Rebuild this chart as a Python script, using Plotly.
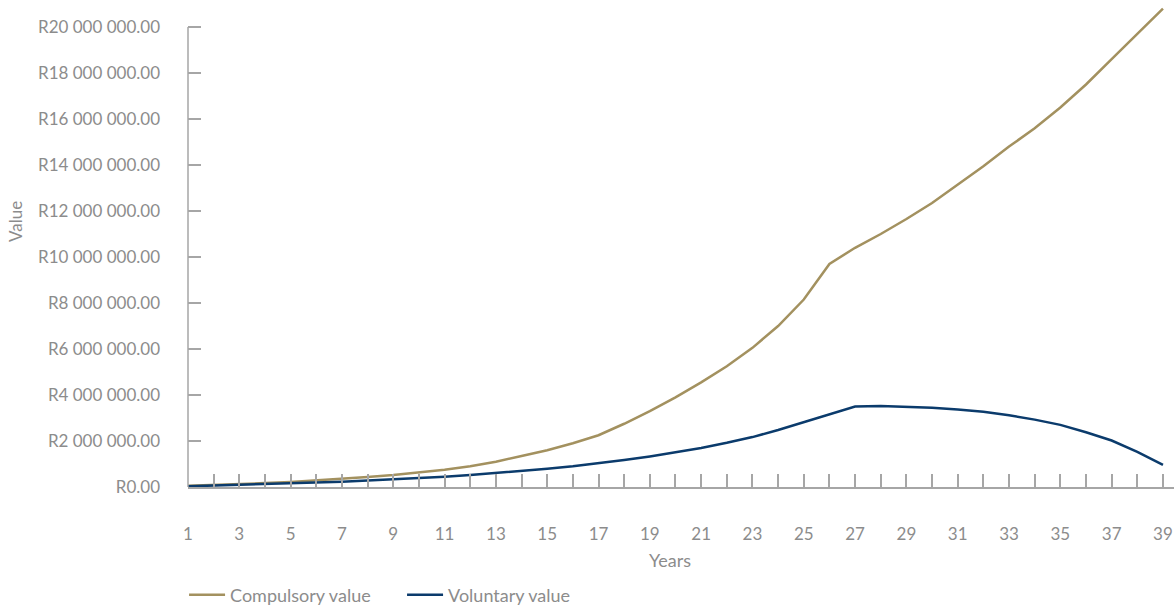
import plotly.graph_objects as go

years = list(range(1, 40))
compulsory = [0.05, 0.08, 0.12, 0.17, 0.22, 0.28, 0.35, 0.43, 0.52, 0.62,
              0.75, 0.90, 1.10, 1.35, 1.60, 1.90, 2.25, 2.75, 3.30, 3.90,
              4.55, 5.25, 6.05, 7.00, 8.15, 9.70, 10.40, 11.00, 11.65, 12.35,
              13.15, 13.95, 14.80, 15.60, 16.50, 17.50, 18.60, 19.70, 20.80]
voluntary = [0.03, 0.06, 0.09, 0.12, 0.15, 0.19, 0.23, 0.28, 0.33, 0.39,
             0.45, 0.52, 0.60, 0.69, 0.79, 0.90, 1.03, 1.17, 1.33, 1.50,
             1.70, 1.92, 2.17, 2.48, 2.82, 3.17, 3.50, 3.52, 3.50, 3.45,
             3.37, 3.27, 3.12, 2.93, 2.70, 2.38, 2.02, 1.53, 0.96]
compulsory = [v * 1e6 for v in compulsory]
voluntary = [v * 1e6 for v in voluntary]

y_tickvals = [0, 2e6, 4e6, 6e6, 8e6, 10e6, 12e6, 14e6, 16e6, 18e6, 20e6]
y_ticktext = ["R0.00", "R2 000 000.00", "R4 000 000.00", "R6 000 000.00",
              "R8 000 000.00", "R10 000 000.00", "R12 000 000.00",
              "R14 000 000.00", "R16 000 000.00", "R18 000 000.00",
              "R20 000 000.00"]
x_tickvals = list(range(1, 40, 2))

GOLD = "#A3915F"
BLUE = "#0B3B6C"
AXIS = "#A6A6A6"
TEXT = "#8C8C8C"
FONT = "Lato"
PW, PH = 986, 483  # plot area size in px

fig = go.Figure()
fig.add_trace(go.Scatter(x=years, y=compulsory, mode="lines", name="Compulsory value",
                         line=dict(color=GOLD, width=2.5)))
fig.add_trace(go.Scatter(x=years, y=voluntary, mode="lines", name="Voluntary value",
                         line=dict(color=BLUE, width=2.5)))

fig.update_layout(
    width=1174, height=607,
    margin=dict(l=188, r=0, t=4, b=120, autoexpand=False),
    paper_bgcolor="white", plot_bgcolor="white",
    font=dict(family=FONT, size=17, color=TEXT),
    showlegend=True,
    legend=dict(orientation="h", x=-0.004, xanchor="left", y=-(595 - 487) / PH, yanchor="middle",
                font=dict(family=FONT, size=18, color=TEXT), traceorder="normal",
                itemwidth=36, entrywidth=167, entrywidthmode="pixels"),
    xaxis=dict(range=[1, 39.43], tickvals=x_tickvals, ticktext=[str(v) for v in x_tickvals],
               showgrid=False, zeroline=False, showline=True, linecolor=AXIS, linewidth=1.5,
               ticks="inside", ticklen=13, tickcolor=AXIS, tickwidth=1.5, automargin=False,
               minor=dict(dtick=1, tick0=1, ticks="inside", ticklen=13, tickcolor=AXIS,
                          tickwidth=1.5, showgrid=False),
               ticklabelstandoff=31, tickfont=dict(size=17, color=TEXT)),
    yaxis=dict(range=[0, 21e6], tickvals=y_tickvals, ticktext=y_ticktext,
               showgrid=False, zeroline=False, showline=False, automargin=False,
               ticks="inside", ticklen=13, tickcolor=AXIS, tickwidth=1.5,
               ticklabelstandoff=27, tickfont=dict(size=17, color=TEXT)),
)

fig.add_shape(type="line", xref="paper", yref="y", x0=0, x1=0, y0=0, y1=20e6,
              line=dict(color=AXIS, width=1.5))

fig.add_annotation(text="Value", xref="paper", yref="paper", x=(15 - 188) / PW,
                   y=(487 - 222) / PH, textangle=-90, showarrow=False,
                   xanchor="center", yanchor="middle",
                   font=dict(family=FONT, size=17, color=TEXT))
fig.add_annotation(text="Years", xref="paper", yref="paper", x=(670 - 188) / PW,
                   y=-(560 - 487) / PH, showarrow=False, xanchor="center", yanchor="middle",
                   font=dict(family=FONT, size=18, color=TEXT))

fig.write_html("out.html")
